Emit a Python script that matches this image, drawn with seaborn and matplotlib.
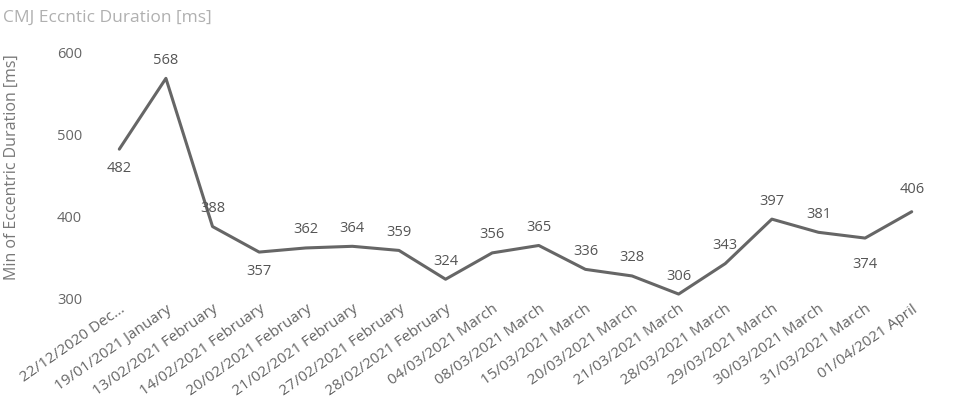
import matplotlib
matplotlib.use("Agg")
import matplotlib.pyplot as plt
import seaborn as sns
import pandas as pd

dates = ["22/12/2020 Dec...", "19/01/2021 January", "13/02/2021 February", "14/02/2021 February",
         "20/02/2021 February", "21/02/2021 February", "27/02/2021 February", "28/02/2021 February",
         "04/03/2021 March", "08/03/2021 March", "15/03/2021 March", "20/03/2021 March",
         "21/03/2021 March", "28/03/2021 March", "29/03/2021 March", "30/03/2021 March",
         "31/03/2021 March", "01/04/2021 April"]
values = [482, 568, 388, 357, 362, 364, 359, 324, 356, 365, 336, 328, 306, 343, 397, 381, 374, 406]
label_side = ["below", "above", "above", "below", "above", "above", "above", "above", "above",
              "above", "above", "above", "above", "above", "above", "above", "below", "above"]
yticks = [300, 400, 500, 600]

sns.set_theme(style="white")
plt.rcParams['font.family'] = ['Open Sans', 'DejaVu Sans']

df = pd.DataFrame({"date": dates, "value": values})

fig = plt.figure(figsize=(9.54, 4.13), dpi=100)
ax = fig.add_axes([96/954, 1 - 299/413, (935-96)/954, (299-52)/413])

sns.lineplot(data=df, x="date", y="value", ax=ax, color="#666666", linewidth=2.2, sort=False)
ax.set_xlim(-0.5, len(dates) - 0.5)
ax.set_ylim(300, 600)
for ln in ax.lines:
    ln.set_clip_on(False)

for i, (v, side) in enumerate(zip(values, label_side)):
    off = -18 if side == "above" else 19
    if i == len(values) - 1:
        off = -22
    if i == 16:
        off = 26
    ax.annotate(str(v), (i, v), xytext=(0, -off), textcoords="offset pixels",
                ha="center", va="center", fontsize=10.5, color="#555555")

ax.set_yticks(yticks)
ax.set_yticklabels([str(t) for t in yticks], color="#666666", fontsize=10.5)
ax.tick_params(axis="y", length=0, pad=10)
ax.tick_params(axis="x", length=0, pad=2)
ax.set_xticks(range(len(dates)))
ax.set_xticklabels(dates, rotation=35, ha="right", rotation_mode="anchor",
                   color="#666666", fontsize=11)
for s in ax.spines.values():
    s.set_visible(False)
ax.set_xlabel("")
ax.set_ylabel("Min of Eccentric Duration [ms]", color="#777777", fontsize=11.5)
ax.yaxis.set_label_coords(-76/839, 0.535)

fig.text(3/954, 1 - 18/413, "CMJ Eccntic Duration [ms]", color="#b0b0b0", fontsize=12.5,
         ha="left", va="center")

fig.savefig("out.png", dpi=100)
